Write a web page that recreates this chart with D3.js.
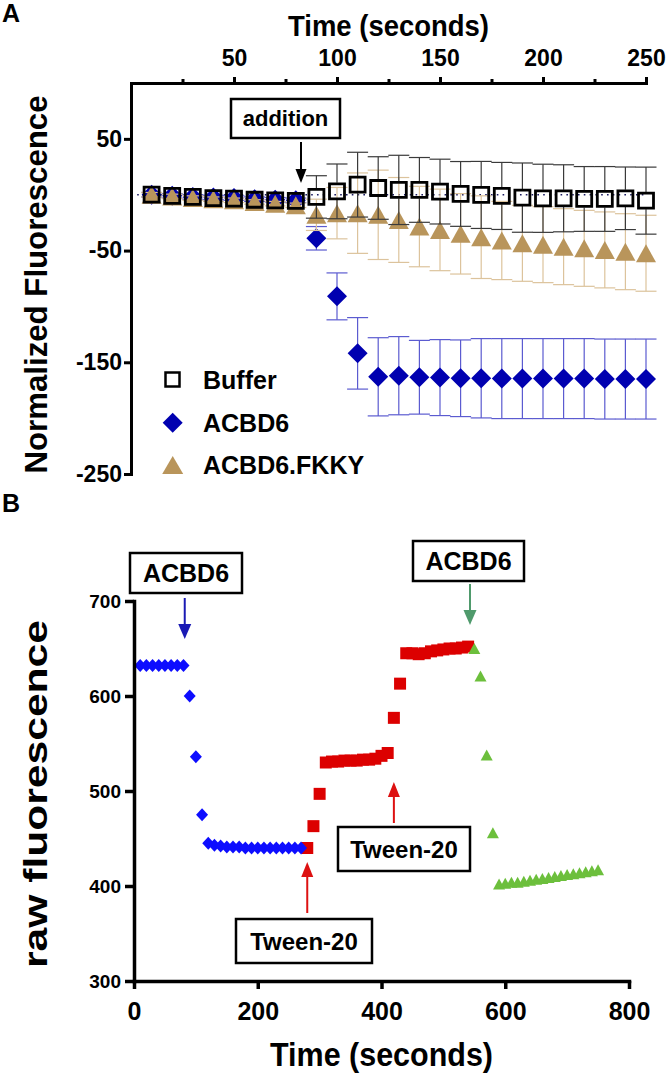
<!DOCTYPE html>
<html><head><meta charset="utf-8">
<script src="https://cdn.jsdelivr.net/npm/d3@7"></script>
<style>
body{margin:0;background:#fff}
svg text{font-family:"Liberation Sans",Arial,Helvetica,sans-serif;font-weight:bold;fill:#000}
</style>
</head><body>
<svg id="c" width="671" height="1076"></svg>
<script>
// ---------- Panel A data ----------
const timesA = [10,20,30,40,50,60,70,80,90,100,110,120,130,140,150,160,170,180,190,200,210,220,230,240,250];
const bufferMean = [0,-1,-2,-3,-3.5,-4.5,-5,-5.5,-2,3,9,6,4.3,4.3,2.8,0.7,-0.2,-1.1,-2.6,-3.2,-3.2,-3.8,-3.8,-3.2,-5.3];
const bufferErr  = [2,2,2,2,2,2,2,2,19,24.5,29,28,31,29,29,29,30,30,31,30.5,30,29,29,28,30];
const acbd6Mean  = [0,-1,-2,-2.5,-3,-4,-4.5,-5,-39,-91,-142,-163,-162,-163.4,-163.7,-164.3,-164.3,-164.6,-164.6,-164.6,-164.6,-164.6,-165,-165,-165];
const acbd6Err   = [2,2,2,2,2,2,2,2,10.5,21,32,35,35,33,34,34.3,35.5,35.8,35.8,35.8,35.8,35.8,35.8,35.8,35.8];
const fkkyMean   = [0,-1.5,-3,-4,-5,-6.5,-8,-9.5,-18,-16.5,-16.5,-18,-22.6,-28.5,-31.5,-35,-38,-41,-43.5,-44.7,-46.5,-48,-49.4,-51,-52.4];
const fkkyErr    = [2,2,2,2,2,2,2,2,14,23,36,40,38,36,36.5,36,37,35,34,34,34,34,34,34,34];
const xTicksA = [50,100,150,200,250];
const xMinorA = [25,75,125,175,225];
const yTicksA = [50,-50,-150,-250];
const legendA = ["Buffer","ACBD6","ACBD6.FKKY"];

// ---------- Panel B data ----------
const blueT = [10,20,30,40,50,60,70,80,90,100,110,120,130,140,150,160,170,180,190,200,210,220,230,240,250,260,270];
const blueV = [632,632,632,632,632,632,632,632,600,536,475,445,443,442,441,441,441,440,440,440,440,440,440,440,440,440,440];
const redT  = [280,290,300,310,320,330,340,350,360,370,380,390,400,410,420,430,440,450,460,470,480,490,500,510,520,530,540];
const redV  = [440,463,497,530,531,531,532,532,532,533,533,534,537,540,577,613,645,645,644,645,647,648,649,650,650,651,652];
const greenT = [550,560,570,580,590,600,610,620,630,640,650,660,670,680,690,700,710,720,730,740,750];
const greenV = [650,621,538,456,402,403,404,404,405,406,407,408,409,410,411,412,413,414,415,416,417];
const xTicksB = [0,200,400,600,800];
const yTicksB = [300,400,500,600,700];

const svg = d3.select("#c");

// ---------- helpers ----------
function styleAxis(g, w, fs){
  g.select(".domain").attr("stroke","#000").attr("stroke-width",w).attr("stroke-linecap","square");
  g.selectAll(".tick line").attr("stroke","#000").attr("stroke-width",w);
  g.selectAll(".tick text").attr("font-size",fs).attr("font-family","Liberation Sans, Arial, sans-serif").attr("font-weight","bold").attr("fill","#000");
}
function triPath(w,h){ return `M0,${-h/2}L${w/2},${h/2}L${-w/2},${h/2}Z`; }
function diamondPath(w,h){ return `M0,${-h/2}L${w/2},0L0,${h/2}L${-w/2},0Z`; }
function squarePath(s){ return `M${-s/2},${-s/2}h${s}v${s}h${-s}Z`; }
function arrow(g, x, y1, y2, color, lw, hl, hw){
  const dir = y2 > y1 ? 1 : -1;
  g.append("line").attr("x1",x).attr("x2",x).attr("y1",y1).attr("y2",y2 - dir*hl*0.8)
    .attr("stroke",color).attr("stroke-width",lw);
  g.append("path").attr("d",`M${x},${y2}L${x-hw/2},${y2-dir*hl}L${x+hw/2},${y2-dir*hl}Z`).attr("fill",color);
}
function labelBox(g, x, y, w, h, text, fs){
  g.append("rect").attr("x",x).attr("y",y).attr("width",w).attr("height",h)
    .attr("fill","#fff").attr("stroke","#000").attr("stroke-width",2.5);
  g.append("text").attr("x",x+w/2).attr("y",y+h/2).attr("dy","0.36em")
    .attr("text-anchor","middle").attr("font-size",fs).text(text);
}
function errBars(g, times, means, errs, x, y, color, gap, capW, lw){
  times.forEach((t,i)=>{
    const cx = x(t), cy = y(means[i]);
    const yt = y(means[i]+errs[i]), yb = y(means[i]-errs[i]);
    if (cy - yt > gap){
      g.append("line").attr("x1",cx).attr("x2",cx).attr("y1",yt).attr("y2",cy-gap).attr("stroke",color).attr("stroke-width",lw);
      g.append("line").attr("x1",cx-capW/2).attr("x2",cx+capW/2).attr("y1",yt).attr("y2",yt).attr("stroke",color).attr("stroke-width",lw);
    }
    if (yb - cy > gap){
      g.append("line").attr("x1",cx).attr("x2",cx).attr("y1",cy+gap).attr("y2",yb).attr("stroke",color).attr("stroke-width",lw);
      g.append("line").attr("x1",cx-capW/2).attr("x2",cx+capW/2).attr("y1",yb).attr("y2",yb).attr("stroke",color).attr("stroke-width",lw);
    }
  });
}

// ================= Panel A =================
const xA = d3.scaleLinear().domain([0,250]).range([131,646]);
const yA = d3.scaleLinear().domain([-250,100]).range([474,83]);
const gA = svg.append("g");

gA.append("line").attr("x1",xA(3)).attr("x2",xA(250)).attr("y1",yA(0)).attr("y2",yA(0))
  .attr("stroke","#1a1a60").attr("stroke-width",1.6).attr("stroke-dasharray","1.6,4.2");

errBars(gA, timesA, acbd6Mean, acbd6Err, xA, yA, "#5b5bd0", 0, 21, 1.2);
gA.append("g").selectAll("path").data(timesA).join("path")
  .attr("d", diamondPath(20,20)).attr("fill","#0000b0")
  .attr("transform",(d,i)=>`translate(${xA(d)},${yA(acbd6Mean[i])})`);
errBars(gA, timesA, fkkyMean, fkkyErr, xA, yA, "#dcc39c", 0, 21, 1.2);
gA.append("g").selectAll("path").data(timesA).join("path")
  .attr("d", triPath(20,18)).attr("fill","#b9955b")
  .attr("transform",(d,i)=>`translate(${xA(d)},${yA(fkkyMean[i])})`);
errBars(gA, timesA, bufferMean, bufferErr, xA, yA, "#3a3a3a", 8.5, 21, 1.2);
gA.append("g").selectAll("path").data(timesA).join("path")
  .attr("d", squarePath(15)).attr("fill","none").attr("stroke","#000").attr("stroke-width",2.8)
  .attr("transform",(d,i)=>`translate(${xA(d)},${yA(bufferMean[i])})`);

const axTop = gA.append("g").attr("transform",`translate(0,${yA(100)})`)
  .call(d3.axisTop(xA).tickValues(xTicksA).tickSizeInner(6).tickSizeOuter(0).tickPadding(11));
styleAxis(axTop, 3, 23);
const axTopMinor = gA.append("g").attr("transform",`translate(0,${yA(100)})`)
  .call(d3.axisTop(xA).tickValues(xMinorA).tickSize(4).tickFormat(""));
axTopMinor.select(".domain").remove();
axTopMinor.selectAll(".tick line").attr("stroke","#000").attr("stroke-width",3);
const axLeftA = gA.append("g").attr("transform",`translate(${xA(0)},0)`)
  .call(d3.axisLeft(yA).tickValues(yTicksA).tickSizeInner(7).tickSizeOuter(0).tickPadding(2).tickFormat(d=>String(d)));
styleAxis(axLeftA, 3, 23);

svg.append("text").attr("x",(xA(0)+xA(250))/2).attr("y",36).attr("text-anchor","middle").attr("font-size",29)
  .attr("textLength",201).attr("lengthAdjust","spacingAndGlyphs").text("Time (seconds)");
svg.append("text").attr("transform",`translate(47,284.5) rotate(-90)`).attr("text-anchor","middle").attr("font-size",31)
  .attr("textLength",378).attr("lengthAdjust","spacingAndGlyphs").text("Normalized Fluorescence");
svg.append("text").attr("x",2).attr("y",22).attr("font-size",25).text("A");

labelBox(gA, 231, 99, 109, 39, "addition", 22);
arrow(gA, 301, 142, 183, "#000", 2, 14, 11);

const lg = gA.append("g");
const legY = [379.5, 422.7, 465];
lg.append("path").attr("d",squarePath(14)).attr("fill","none").attr("stroke","#000").attr("stroke-width",2.5).attr("transform",`translate(172.5,${legY[0]})`);
lg.append("path").attr("d",diamondPath(20,20)).attr("fill","#0000b0").attr("transform",`translate(172.7,${legY[1]})`);
lg.append("path").attr("d",triPath(21,18)).attr("fill","#b9955b").attr("transform",`translate(172.7,${legY[2]})`);
legendA.forEach((s,i)=>{
  lg.append("text").attr("x",203).attr("y",legY[i]).attr("dy","0.36em").attr("font-size",25).text(s);
});

// ================= Panel B =================
const xB = d3.scaleLinear().domain([0,800]).range([134,629]);
const yB = d3.scaleLinear().domain([300,700]).range([981,601]);
const gB = svg.append("g");

gB.append("g").selectAll("path").data(redT).join("path")
  .attr("d", squarePath(12)).attr("fill","#dc0000")
  .attr("transform",(d,i)=>`translate(${xB(d)},${yB(redV[i])})`);
gB.append("g").selectAll("path").data(blueT).join("path")
  .attr("d", diamondPath(12,13)).attr("fill","#0d0dff")
  .attr("transform",(d,i)=>`translate(${xB(d)},${yB(blueV[i])})`);
gB.append("g").selectAll("path").data(greenT).join("path")
  .attr("d", triPath(12,11)).attr("fill","#6cbf3c")
  .attr("transform",(d,i)=>`translate(${xB(d)},${yB(greenV[i])})`);

const axBotB = gB.append("g").attr("transform",`translate(0,${yB(300)})`)
  .call(d3.axisBottom(xB).tickValues(xTicksB).tickSizeInner(8).tickSizeOuter(0).tickPadding(13));
styleAxis(axBotB, 3.5, 25);
const axLeftB = gB.append("g").attr("transform",`translate(${xB(0)},0)`)
  .call(d3.axisLeft(yB).tickValues(yTicksB).tickSizeInner(9).tickSizeOuter(0).tickPadding(4));
styleAxis(axLeftB, 3.5, 19);

svg.append("text").attr("x",381.5).attr("y",1066).attr("text-anchor","middle").attr("font-size",34)
  .attr("textLength",223).attr("lengthAdjust","spacingAndGlyphs").text("Time (seconds)");
svg.append("text").attr("transform",`translate(47,794) rotate(-90)`).attr("text-anchor","middle").attr("font-size",33)
  .attr("textLength",348).attr("lengthAdjust","spacingAndGlyphs").text("raw fluorescence");
svg.append("text").attr("x",2).attr("y",512).attr("font-size",25).text("B");

labelBox(gB, 130, 553, 112, 40, "ACBD6", 25);
arrow(gB, xB(82), 598, 639, "#1a1ab4", 2, 15, 13);
labelBox(gB, 413, 541, 111, 40, "ACBD6", 25);
arrow(gB, xB(543), 584, 625, "#4f9a6c", 2, 15, 13);
labelBox(gB, 338, 827, 132, 44, "Tween-20", 24);
arrow(gB, xB(420), 823, 782, "#dd1111", 2, 15, 12);
labelBox(gB, 236, 919, 136, 44, "Tween-20", 24);
arrow(gB, xB(280), 913, 862, "#dd1111", 2, 15, 12);
</script>
</body></html>
